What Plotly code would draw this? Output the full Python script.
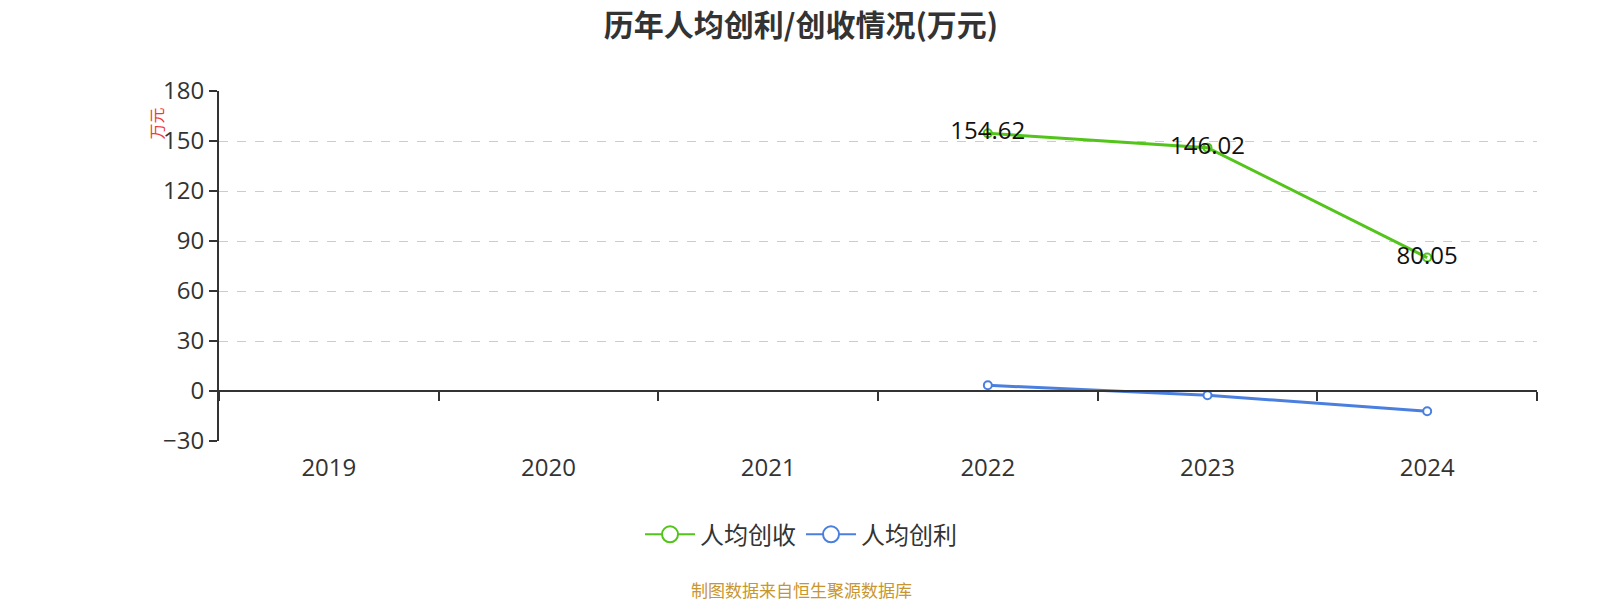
import plotly.graph_objects as go

years = ["2019", "2020", "2021", "2022", "2023", "2024"]
revenue_per_capita = [None, None, None, 154.62, 146.02, 80.05]
profit_per_capita = [None, None, None, 3.4, -2.5, -12.2]
revenue_labels = ["", "", "", "154.62", "146.02", "80.05"]

GREEN = "#52c41a"
BLUE = "#4a7fe0"
FONT = "Open Sans, Noto Sans CJK SC, sans-serif"
CJK = "Noto Sans CJK SC, sans-serif"

# margins (figure px)
ML, MR, MT, MB = 211, 71, 83, 167
PLOT_W = 1600 - ML - MR
PLOT_H = 600 - MT - MB
PLOT_B = 600 - MB


def ref_to_fig(dx, dy):
    # reference picture coords -> figure px (screenshot is scaled and offset by page margin)
    return dx / 0.98 - 8, dy / 0.98 - 8


def ref_to_paper(dx, dy):
    ax, ay = ref_to_fig(dx, dy)
    return (ax - ML) / PLOT_W, (PLOT_B - ay) / PLOT_H


fig = go.Figure()

fig.add_trace(go.Scatter(
    x=years, y=revenue_per_capita, name="人均创收", showlegend=False,
    mode="lines+markers+text", text=revenue_labels,
    textposition="middle center",
    textfont=dict(size=24, color="#111", family=FONT),
    line=dict(color=GREEN, width=3),
    marker=dict(symbol="circle-open", size=8, color=GREEN, line=dict(width=2)),
))
fig.add_trace(go.Scatter(
    x=years, y=profit_per_capita, name="人均创利", showlegend=False,
    mode="lines+markers",
    line=dict(color=BLUE, width=3),
    marker=dict(symbol="circle", size=8, color="white", line=dict(color=BLUE, width=2)),
))
# legend-only entries with bigger hollow circles
for name, color in [("人均创收", GREEN), ("人均创利", BLUE)]:
    fig.add_trace(go.Scatter(
        x=[None], y=[None], name=name, mode="lines+markers",
        line=dict(color=color, width=2),
        marker=dict(symbol="circle", size=16, color="white", line=dict(color=color, width=2)),
    ))
# invisible trace so the zero-crossing axis gets drawn
fig.add_trace(go.Scatter(
    x=years, y=[0] * len(years), xaxis="x2", mode="lines",
    line=dict(width=0), showlegend=False, hoverinfo="skip",
))

tx, ty = ref_to_fig(785, 25)
lx, ly = ref_to_paper(785, 524)
fig.update_layout(
    width=1600, height=600,
    paper_bgcolor="white", plot_bgcolor="white",
    font=dict(family=FONT, color="#333"),
    margin=dict(l=ML, r=MR, t=MT, b=MB),
    title=dict(
        text="<b>历年人均创利/创收情况(万元)</b>",
        x=tx / 1600, xref="container", xanchor="center",
        y=1 - ty / 600, yref="container", yanchor="middle",
        font=dict(size=30, color="#333", family=CJK),
    ),
    xaxis=dict(
        type="category", categoryorder="array", categoryarray=years,
        range=[-0.5, 5.5], showline=False, ticks="", showgrid=False,
        tickfont=dict(size=24, color="#333"), ticklabelstandoff=10,
        zeroline=False,
    ),
    xaxis2=dict(
        type="category", categoryorder="array", categoryarray=years,
        range=[-0.5, 5.5], overlaying="x", anchor="free", position=30 / 210,
        side="bottom",
        showline=True, linecolor="#333", linewidth=2,
        ticks="outside", tickson="boundaries", ticklen=9, tickwidth=2, tickcolor="#333",
        showticklabels=False, showgrid=False, zeroline=False,
    ),
    yaxis=dict(
        range=[-30, 180], tickvals=[-30, 0, 30, 60, 90, 120, 150, 180],
        showline=True, linecolor="#333", linewidth=2,
        ticks="outside", ticklen=8, tickwidth=2, tickcolor="#333",
        showgrid=True, gridcolor="#cccccc", griddash="dash", gridwidth=1,
        zeroline=False, tickfont=dict(size=24, color="#333"),
    ),
    legend=dict(
        orientation="h", x=lx, xanchor="center", y=ly, yanchor="middle",
        font=dict(size=24, color="#333", family=CJK), itemwidth=50,
    ),
    showlegend=True,
)

ux, uy = ref_to_paper(153, 121)
fig.add_annotation(
    text="万元", x=ux, y=uy, xref="paper", yref="paper",
    xanchor="center", yanchor="middle",
    showarrow=False, textangle=-90, font=dict(size=16, color="#f03a3a", family=CJK),
)
fx, fy = ref_to_paper(785, 578)
fig.add_annotation(
    text="制图数据来自恒生聚源数据库", x=fx, y=fy, xref="paper", yref="paper",
    xanchor="center", yanchor="middle",
    showarrow=False, font=dict(size=17, color="#c8962e", family=CJK),
)

fig.write_html("out.html")
